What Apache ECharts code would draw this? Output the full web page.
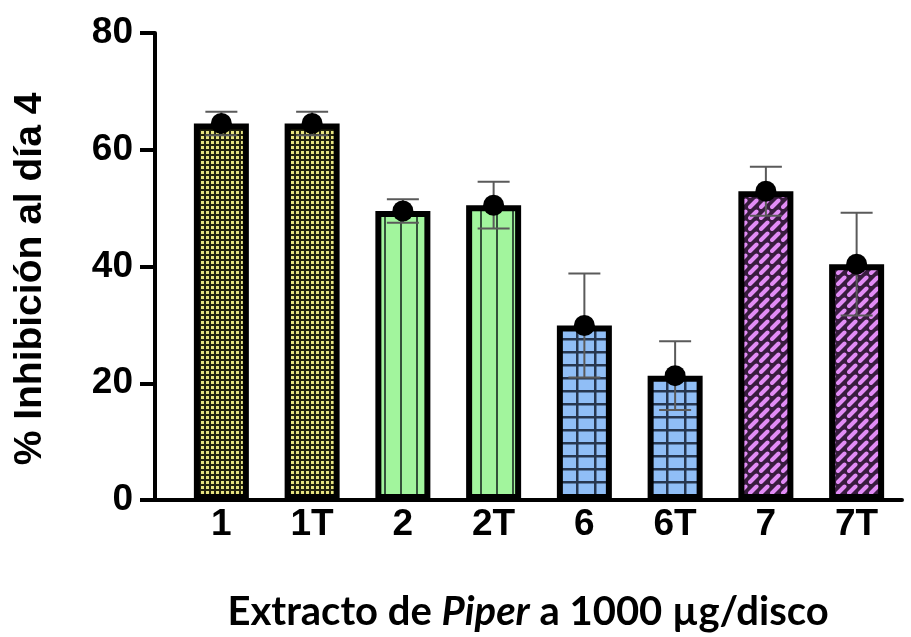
<!DOCTYPE html>
<html>
<head>
<meta charset="utf-8">
<script src="https://cdn.jsdelivr.net/npm/echarts@6/dist/echarts.min.js"></script>
<style>
html,body{margin:0;padding:0;background:#fff;}
#chart{width:911px;height:637px;}
</style>
</head>
<body>
<div id="chart"></div>
<script>
// ---- data ----
const categories = ['1', '1T', '2', '2T', '6', '6T', '7', '7T'];
const means = [64.5, 64.5, 49.5, 50.5, 29.9, 21.3, 52.9, 40.4];
const sds = [2.0, 2.0, 2.0, 4.0, 8.9, 5.9, 4.2, 8.8];
const patternKinds = ['dots', 'dots', 'vlines', 'vlines', 'grid', 'grid', 'diag', 'diag'];
const yTicks = [0, 20, 40, 60, 80];

// ---- patterns ----
function makePattern(kind) {
  const c = document.createElement('canvas');
  const ctx = c.getContext('2d');
  if (kind === 'dots') {
    c.width = 5; c.height = 5;
    ctx.fillStyle = '#25250f'; ctx.fillRect(0, 0, 5, 5);
    ctx.fillStyle = '#e6e280'; ctx.fillRect(1, 1, 3, 3);
  } else if (kind === 'vlines') {
    c.width = 16; c.height = 4;
    ctx.fillStyle = '#a2f59d'; ctx.fillRect(0, 0, 16, 4);
    ctx.fillStyle = '#34523a'; ctx.fillRect(0, 0, 2, 4);
  } else if (kind === 'grid') {
    c.width = 18; c.height = 13;
    ctx.fillStyle = '#90bef6'; ctx.fillRect(0, 0, 18, 13);
    ctx.fillStyle = '#26364f'; ctx.fillRect(0, 0, 2.5, 13); ctx.fillRect(0, 0, 18, 2.5);
  } else {
    c.width = 11; c.height = 11;
    ctx.fillStyle = '#381c3e'; ctx.fillRect(0, 0, 11, 11);
    ctx.strokeStyle = '#e28cf6'; ctx.lineWidth = 4; ctx.lineCap = 'round';
    ctx.beginPath(); ctx.moveTo(2, 9); ctx.lineTo(8.5, 2.5); ctx.stroke();
  }
  return { image: c, repeat: 'repeat' };
}

const barData = means.map((v, i) => ({
  value: v,
  itemStyle: { color: makePattern(patternKinds[i]) }
}));
const errData = means.map((v, i) => [i, v, sds[i]]);
const pointData = means.map((v, i) => [i, v]);

const GRID_LEFT = 176, Y_OFFSET = 21;

const chart = echarts.init(document.getElementById('chart'));
chart.setOption({
  animation: false,
  backgroundColor: '#fff',
  grid: { left: GRID_LEFT, right: 9, top: 33, bottom: 136, containLabel: false },
  xAxis: {
    type: 'category',
    data: categories,
    axisLine: { lineStyle: { color: '#000', width: 4 } },
    axisTick: { alignWithLabel: true, length: 15, lineStyle: { color: '#000', width: 4 } },
    axisLabel: { color: '#000', fontFamily: 'Liberation Sans', fontWeight: 'bold', fontSize: 37, margin: 6 },
    name: '{a|Extracto de }{b|Piper}{a| a 1000 µg/disco}',
    nameLocation: 'middle',
    nameGap: 92,
    nameTextStyle: {
      padding: [0, 22, 0, 0],
      rich: {
        a: { fontFamily: 'Lato', fontWeight: 'bold', fontSize: 40, color: '#000' },
        b: { fontFamily: 'Lato', fontWeight: 'bold', fontStyle: 'italic', fontSize: 40, color: '#000' }
      }
    }
  },
  yAxis: {
    type: 'value',
    min: 0, max: 80, interval: 20,
    offset: Y_OFFSET,
    splitLine: { show: false },
    axisLine: { show: true, lineStyle: { color: '#000', width: 4 } },
    axisTick: { show: true, length: 15, lineStyle: { color: '#000', width: 4 } },
    axisLabel: { color: '#000', fontFamily: 'Liberation Sans', fontWeight: 'bold', fontSize: 37, margin: 22 }
  },
  series: [
    {
      type: 'bar',
      data: barData,
      barWidth: 55,
      z: 2,
      itemStyle: { borderColor: '#000', borderWidth: 6 }
    },
    {
      type: 'custom',
      z: 3,
      data: errData,
      renderItem: function (params, api) {
        const i = api.value(0), m = api.value(1), s = api.value(2);
        const hi = api.coord([i, m + s]);
        const lo = api.coord([i, m - s]);
        const hw = 16;
        const st = { stroke: '#5a5a5a', lineWidth: 2 };
        return {
          type: 'group',
          children: [
            { type: 'line', shape: { x1: hi[0], y1: hi[1], x2: lo[0], y2: lo[1] }, style: st },
            { type: 'line', shape: { x1: hi[0] - hw, y1: hi[1], x2: hi[0] + hw, y2: hi[1] }, style: st },
            { type: 'line', shape: { x1: lo[0] - hw, y1: lo[1], x2: lo[0] + hw, y2: lo[1] }, style: st }
          ]
        };
      }
    },
    {
      type: 'scatter',
      z: 4,
      data: pointData,
      symbol: 'circle',
      symbolSize: 21,
      itemStyle: { color: '#000', opacity: 1 }
    }
  ]
});

// extend the x-axis line from the offset y-axis to the category area
const y0 = chart.convertToPixel({ yAxisIndex: 0 }, 0);
chart.setOption({
  graphic: [
    {
      type: 'line',
      shape: { x1: GRID_LEFT - Y_OFFSET - 2, y1: y0, x2: GRID_LEFT, y2: y0 },
      style: { stroke: '#000', lineWidth: 4 },
      z: 10
    },
    {
      type: 'text',
      x: 30, y: 279,
      rotation: Math.PI / 2,
      style: {
        text: '% Inhibición al día 4',
        fontFamily: 'Liberation Sans', fontWeight: 'bold', fontSize: 39,
        fill: '#000', align: 'center', verticalAlign: 'middle'
      }
    }
  ]
});
</script>
</body>
</html>
